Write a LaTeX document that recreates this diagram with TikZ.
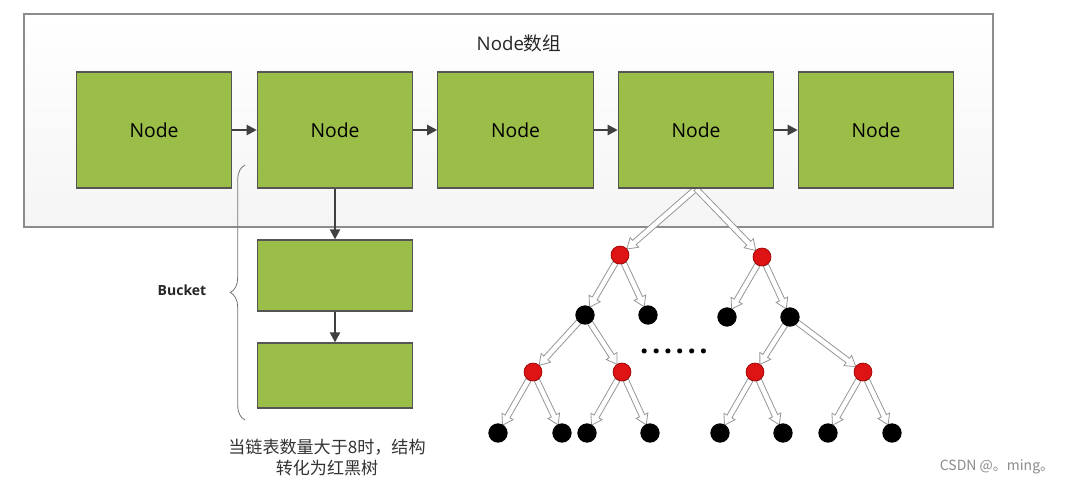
\documentclass[tikz,border=0pt]{standalone}
\usepackage{fontspec}
\setmainfont{Open Sans}
\newfontfamily\cjk{Noto Sans CJK SC}
\usetikzlibrary{calc,backgrounds,decorations.pathreplacing,arrows.meta}
\definecolor{boxgreen}{RGB}{155,190,72}
\definecolor{boxedge}{RGB}{85,85,85}
\definecolor{arrgray}{RGB}{64,64,64}
\definecolor{rbred}{RGB}{222,20,20}
\definecolor{rbredd}{RGB}{150,0,0}
\definecolor{framegray}{RGB}{140,140,140}
\definecolor{hollowedge}{RGB}{150,150,150}
\tikzset{
  gbox/.style={draw=boxedge, fill=boxgreen, line width=0.9pt, inner sep=0pt,
    minimum width=116.5pt, minimum height=87pt, font=\fontsize{14.5}{16}\selectfont, text=black},
  darr/.style={draw=arrgray, line width=1.6pt, -{Triangle[length=7.5pt,width=7.5pt]}},
  rnode/.style={circle, fill=rbred, draw=rbredd, line width=0.5pt, minimum size=13.5pt, inner sep=0pt},
  bnode/.style={circle, fill=black, minimum size=14.5pt, inner sep=0pt},
  hollow/.style={fill=white, draw=hollowedge, line width=0.6pt, line join=miter},
}
\newcommand\harr[3][6.8pt]{%
  \coordinate (hS) at ($(#2)!#1!(#3)$);
  \coordinate (hE) at ($(#3)!6.8pt!(#2)$);
  \coordinate (hH) at ($(hE)!7.5pt!(hS)$);
  \draw[hollow] ($(hS)!2.1pt!90:(hE)$) -- ($(hH)!2.1pt!90:(hE)$) -- ($(hH)!4.8pt!90:(hE)$)
    -- (hE) -- ($(hH)!4.8pt!-90:(hE)$) -- ($(hH)!2.1pt!-90:(hE)$) -- ($(hS)!2.1pt!-90:(hE)$) -- cycle;
}
\begin{document}
\begin{tikzpicture}[x=0.75pt,y=-0.75pt]
\useasboundingbox (0,0) rectangle (1068,486);

% array of nodes
\node[font=\fontsize{14}{16}\selectfont, text=black!85] (title) at (519,43) {Node{\cjk 数组}};
\node[gbox] (n1) at (154,130) {Node};
\node[gbox] (n2) at (335,130) {Node};
\node[gbox] (n3) at (515.5,130) {Node};
\node[gbox] (n4) at (696,130) {Node};
\node[gbox] (n5) at (876,130) {Node};
\draw[darr] (n1) -- (n2);
\draw[darr] (n2) -- (n3);
\draw[darr] (n3) -- (n4);
\draw[darr] (n4) -- (n5);

% bucket
\node[gbox, minimum height=53.25pt] (b1) at (335,275.5) {};
\node[gbox, minimum height=48.75pt] (b2) at (335,375.5) {};
\draw[darr] (n2) -- (b1);
\draw[darr] (b1) -- (b2);
\draw[draw=black!55, line width=0.6pt, decorate, decoration={brace, amplitude=11pt}]
  (245,420) -- (245,165);
\node[font=\bfseries\fontsize{10.5}{12}\selectfont, text=black!85] (bucket) at (182,290) {Bucket};
\node[font=\cjk\fontsize{12.8}{15.75}\selectfont, text=black!80, align=center] (note) at (327,457.5)
  {当链表数量大于8时，结构\\转化为红黑树};

% red-black tree
\node[rnode] (r1) at (620,255) {};
\node[rnode] (r2) at (762,257) {};
\node[bnode] (k1) at (585,315) {};
\node[bnode] (k2) at (648,315) {};
\node[bnode] (k3) at (727,317) {};
\node[bnode] (k4) at (790,317) {};
\node[rnode] (s1) at (533,372) {};
\node[rnode] (s2) at (622,372) {};
\node[rnode] (s3) at (755,372) {};
\node[rnode] (s4) at (863,372) {};
\node[bnode] (l1) at (498,433) {};
\node[bnode] (l2) at (562,433) {};
\node[bnode] (l3) at (587,433) {};
\node[bnode] (l4) at (650,433) {};
\node[bnode] (l5) at (720,433) {};
\node[bnode] (l6) at (783,433) {};
\node[bnode] (l7) at (828,433) {};
\node[bnode] (l8) at (892,433) {};
\node[font=\bfseries\fontsize{22}{22}\selectfont] (dots) at (674,351)
  {.\kern2.6pt.\kern2.6pt.\kern2.6pt.\kern2.6pt.\kern2.6pt.};

\node[font=\cjk\fontsize{10.5}{12}\selectfont, text=black!45] (wm) at (997,467) {CSDN @。ming。};

\begin{pgfonlayer}{background}
  \fill[white] (0,0) rectangle (1068,486);
  \draw[draw=framegray, line width=1pt, top color=white, bottom color=black!4] (24,14) rectangle (993,227);
  \harr[0pt]{n4.south}{r1}
  \harr[0pt]{n4.south}{r2}
  \harr{r1}{k1}
  \harr{r1}{k2}
  \harr{r2}{k3}
  \harr{r2}{k4}
  \harr{k1}{s1}
  \harr{k1}{s2}
  \harr{k4}{s3}
  \harr{k4}{s4}
  \harr{s1}{l1}
  \harr{s1}{l2}
  \harr{s2}{l3}
  \harr{s2}{l4}
  \harr{s3}{l5}
  \harr{s3}{l6}
  \harr{s4}{l7}
  \harr{s4}{l8}
\end{pgfonlayer}
\end{tikzpicture}
\end{document}
